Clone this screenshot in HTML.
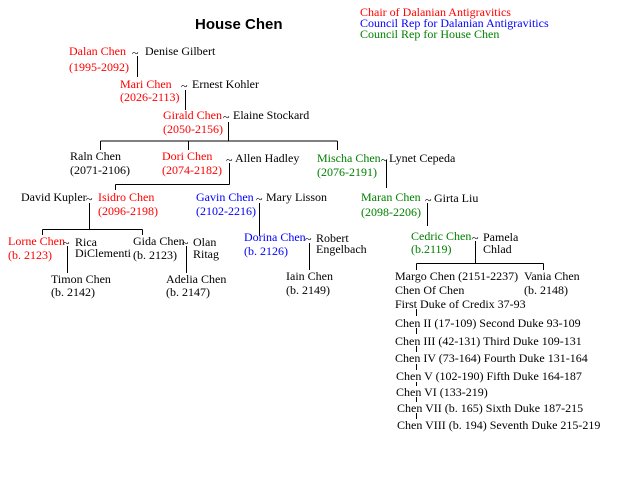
<!DOCTYPE html>
<html><head><style>
body{margin:0;background:#fff;width:640px;height:480px;overflow:hidden}
svg text{font-family:"Liberation Serif",serif;font-size:12px}
.r{fill:#f00}.b{fill:#00f}.g{fill:#008000}
</style></head><body>
<svg width="640" height="480" xmlns="http://www.w3.org/2000/svg">
<text x="195" y="29" style="font-family:'Liberation Sans',sans-serif;font-weight:bold;font-size:15px">House  Chen</text>
<text x="360" y="16" class="r">Chair of Dalanian Antigravitics</text>
<text x="360" y="27" class="b">Council Rep for Dalanian Antigravitics</text>
<text x="360" y="38" class="g">Council Rep for House Chen</text>
<g stroke="#000" stroke-width="1" fill="none">
<path d="M137.5 56V77M185.5 90V110M228.5 122V141M100.5 141H337.5M100.5 141V150M188.5 141V150M337.5 141V150M229.5 163V184.5M115.5 184.5H229.5M115.5 184.5V190M386.5 160V188M89.5 203V229.5M42.5 229.5H142.5M42.5 229.5V235M142.5 229.5V235M259.5 203V236M427.5 203V226M67.5 246V273M186.5 246V273M309.5 243V270M475.5 241V263.5M416.5 263.5H543.5M416.5 263.5V270M543.5 263.5V270M416.5 309V316M416.5 328V334M416.5 346V352M416.5 364V370M416.5 382V386M416.5 397V402M416.5 413V419"/>
</g>
<text x="69" y="55" class="r">Dalan Chen</text><text x="69" y="71" class="r">(1995-2092)</text>
<text x="132" y="57">~</text><text x="145" y="55">Denise Gilbert</text>
<text x="120" y="88" class="r">Mari Chen</text><text x="120" y="101" class="r">(2026-2113)</text>
<text x="181" y="90">~</text><text x="192" y="88">Ernest Kohler</text>
<text x="163" y="119" class="r">Girald Chen</text><text x="163" y="133" class="r">(2050-2156)</text>
<text x="223" y="121">~</text><text x="233" y="119">Elaine Stockard</text>
<text x="70" y="160">Raln Chen</text><text x="70" y="174">(2071-2106)</text>
<text x="162" y="160" class="r">Dori Chen</text><text x="162" y="174" class="r">(2074-2182)</text>
<text x="226" y="164">~</text><text x="235" y="162">Allen Hadley</text>
<text x="317" y="162" class="g">Mischa Chen</text><text x="317" y="176" class="g">(2076-2191)</text>
<text x="381" y="164">~</text><text x="389" y="162">Lynet Cepeda</text>
<text x="21" y="201">David Kupler</text><text x="86" y="203">~</text>
<text x="98" y="201" class="r">Isidro Chen</text><text x="98" y="215" class="r">(2096-2198)</text>
<text x="196" y="201" class="b">Gavin Chen</text><text x="196" y="215" class="b">(2102-2216)</text>
<text x="256" y="203">~</text><text x="266" y="201">Mary Lisson</text>
<text x="361" y="201" class="g">Maran Chen</text><text x="361" y="216" class="g">(2098-2206)</text>
<text x="425" y="204">~</text><text x="434" y="202">Girta Liu</text>
<text x="8" y="245" class="r">Lorne Chen</text><text x="8" y="259" class="r">(b. 2123)</text>
<text x="63" y="247">~</text><text x="75" y="246">Rica</text><text x="75" y="257">DiClementi</text>
<text x="133" y="245">Gida Chen</text><text x="133" y="259">(b. 2123)</text>
<text x="182" y="247">~</text><text x="193" y="246">Olan</text><text x="193" y="258">Ritag</text>
<text x="51" y="283">Timon Chen</text><text x="51" y="296">(b. 2142)</text>
<text x="166" y="283">Adelia Chen</text><text x="166" y="296">(b. 2147)</text>
<text x="244" y="241" class="b">Dorina Chen</text><text x="244" y="255" class="b">(b. 2126)</text>
<text x="305" y="243">~</text><text x="316" y="242">Robert</text><text x="316" y="253">Engelbach</text>
<text x="286" y="280">Iain Chen</text><text x="286" y="294">(b. 2149)</text>
<text x="411" y="240" class="g">Cedric Chen</text><text x="411" y="253" class="g">(b.2119)</text>
<text x="472" y="242">~</text><text x="483" y="241">Pamela</text><text x="483" y="253">Chlad</text>
<text x="395" y="280">Margo Chen (2151-2237)</text><text x="395" y="294">Chen Of Chen</text>
<text x="524" y="280">Vania Chen</text><text x="524" y="294">(b. 2148)</text>
<text x="395" y="308">First Duke of Credix 37-93</text>
<text x="395" y="327">Chen II (17-109) Second Duke 93-109</text>
<text x="395" y="345">Chen III (42-131) Third Duke 109-131</text>
<text x="395" y="362">Chen IV (73-164) Fourth Duke 131-164</text>
<text x="396" y="380">Chen V (102-190) Fifth Duke 164-187</text>
<text x="396" y="396">Chen VI (133-219)</text>
<text x="397" y="412">Chen VII (b. 165) Sixth Duke 187-215</text>
<text x="397" y="429">Chen VIII (b. 194) Seventh Duke 215-219</text>
</svg>
</body></html>
